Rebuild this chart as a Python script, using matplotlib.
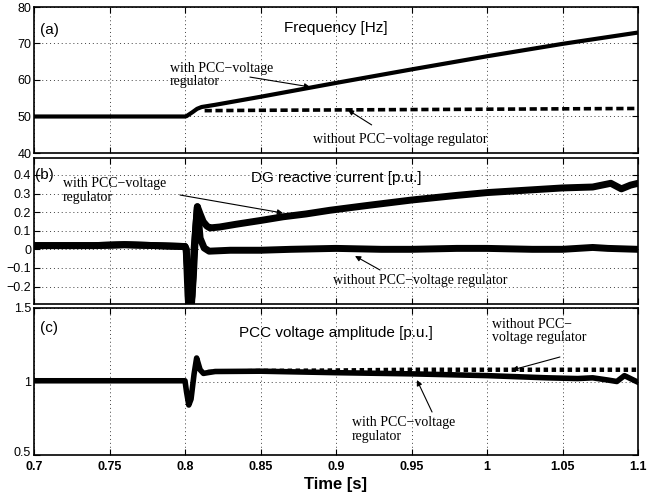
import matplotlib
matplotlib.use("Agg")
import matplotlib.pyplot as plt
import matplotlib.transforms as mtransforms

# ---------------- data ----------------
# (a) Frequency [Hz]
t_f_with = [0.700, 0.800, 0.801, 0.805, 0.808, 0.811, 0.820, 0.850, 0.900, 0.950, 1.000, 1.050, 1.100]
f_with = [50.0, 50.0, 50.1, 51.2, 52.1, 52.6, 53.2, 55.4, 59.2, 62.9, 66.5, 69.9, 73.0]
t_f_without = [0.813, 0.850, 0.900, 0.950, 1.000, 1.050, 1.100]
f_without = [51.6, 51.7, 51.8, 51.9, 52.0, 52.1, 52.2]

# (b) DG reactive current [p.u.]
t_b_with = [0.700, 0.720, 0.740, 0.760, 0.780, 0.800, 0.8008, 0.802, 0.803, 0.8046, 0.806,
            0.8082, 0.810, 0.8121, 0.8145, 0.8165, 0.823, 0.834, 0.850, 0.865, 0.880, 0.896,
            0.920, 0.950, 0.980, 1.000, 1.020, 1.050, 1.070, 1.082, 1.089, 1.095, 1.100]
iq_with = [0.02, 0.02, 0.02, 0.025, 0.02, 0.015, 0.0, -0.25, -0.35, -0.25, 0.0,
           0.229, 0.19, 0.148, 0.125, 0.115, 0.12, 0.135, 0.155, 0.175, 0.19, 0.21,
           0.235, 0.265, 0.29, 0.305, 0.315, 0.33, 0.335, 0.355, 0.325, 0.345, 0.355]
t_b_without = [0.700, 0.720, 0.740, 0.760, 0.780, 0.800, 0.8008, 0.8025, 0.804, 0.8055, 0.807,
               0.8082, 0.810, 0.8127, 0.816, 0.830, 0.850, 0.870, 0.900, 0.930, 0.950, 0.980,
               1.000, 1.030, 1.050, 1.070, 1.080, 1.100]
iq_without = [0.02, 0.02, 0.02, 0.025, 0.02, 0.015, 0.0, -0.2, -0.33, -0.15, 0.1,
              0.229, 0.06, 0.007, -0.01, -0.005, -0.005, 0.0, 0.005, 0.0, 0.0, 0.005,
              0.005, 0.0, 0.0, 0.01, 0.005, 0.0]

# (c) PCC voltage amplitude [p.u.]
t_c_with = [0.700, 0.750, 0.800, 0.801, 0.8025, 0.804, 0.806, 0.8077, 0.810, 0.8122, 0.815,
            0.820, 0.850, 0.900, 0.950, 1.000, 1.040, 1.060, 1.070, 1.080, 1.086, 1.091, 1.100]
v_with = [1.005, 1.005, 1.005, 0.93, 0.84, 0.88, 1.05, 1.16, 1.08, 1.055, 1.06,
          1.068, 1.07, 1.06, 1.052, 1.04, 1.025, 1.02, 1.025, 1.01, 1.00, 1.04, 0.995]
t_c_without = [0.815, 0.850, 0.900, 0.950, 1.000, 1.050, 1.100]
v_without = [1.065, 1.072, 1.075, 1.08, 1.08, 1.08, 1.08]

x_ticks = [0.7, 0.75, 0.8, 0.85, 0.9, 0.95, 1.0, 1.05, 1.1]
x_tick_labels = ["0.7", "0.75", "0.8", "0.85", "0.9", "0.95", "1", "1.05", "1.1"]
a_ticks = [40, 50, 60, 70, 80]
b_ticks = [-0.2, -0.1, 0, 0.1, 0.2, 0.3, 0.4]
b_tick_labels = ["\u22120.2", "\u22120.1", "0", "0.1", "0.2", "0.3", "0.4"]
c_ticks = [0.5, 1.0, 1.5]
c_tick_labels = ["0.5", "1", "1.5"]

titles = ["Frequency [Hz]", "DG reactive current [p.u.]", "PCC voltage amplitude [p.u.]"]
panel_labels = ["(a)", "(b)", "(c)"]
lbl_with = "with PCC\u2212voltage\nregulator"
lbl_without_line = "without PCC\u2212voltage regulator"
lbl_without_2 = "without PCC\u2212\nvoltage regulator"

# ---------------- figure ----------------
SANS = "Liberation Sans"
SERIF = "Liberation Serif"
plt.rcParams["font.family"] = SANS

W, H = 663, 495
fig = plt.figure(figsize=(W / 100, H / 100), dpi=100)

def frac_rect(top_px, bottom_px, left_px=34, right_px=638):
    return [left_px / W, 1 - bottom_px / H, (right_px - left_px) / W, (bottom_px - top_px) / H]

ax_a = fig.add_axes(frac_rect(7, 153))
ax_b = fig.add_axes(frac_rect(158, 304))
ax_c = fig.add_axes(frac_rect(308, 455))

for ax in (ax_a, ax_b, ax_c):
    ax.set_xlim(0.7, 1.1)
    ax.set_xticks(x_ticks)
    ax.grid(True, linestyle=(0, (1, 3)), color="0.25", linewidth=0.7)
    ax.tick_params(direction="in", top=True, right=True, length=4, width=0.8,
                   labelsize=9, pad=2)
    for s in ax.spines.values():
        s.set_linewidth(1.2)
    ax.set_axisbelow(True)

ax_a.set_xticklabels([])
ax_b.set_xticklabels([])
ax_c.set_xticklabels(x_tick_labels, fontweight="bold")
ax_c.tick_params(axis="x", pad=4)

# (a)
ax_a.plot(t_f_with, f_with, color="k", lw=3.0, solid_capstyle="butt")
ax_a.plot(t_f_without, f_without, color="k", lw=2.6, linestyle=(0, (2.0, 1.0)))
ax_a.set_ylim(40, 80)
ax_a.set_yticks(a_ticks)

# (b)
ax_b.plot(t_b_without, iq_without, color="k", lw=5.0)
ax_b.plot(t_b_with, iq_with, color="k", lw=5.0)
ax_b.set_ylim(-0.294, 0.491)
ax_b.set_yticks(b_ticks)
ax_b.set_yticklabels(b_tick_labels)

# (c)
ax_c.plot(t_c_with, v_with, color="k", lw=4.0)
ax_c.plot(t_c_without, v_without, color="k", lw=3.2, linestyle=(0, (1, 0.8)))
ax_c.set_ylim(0.5, 1.5)
ax_c.set_yticks(c_ticks)
ax_c.set_yticklabels(c_tick_labels)
# lift the bottom "0.5" label a few pixels so it only touches "0.7"
lab05 = ax_c.get_yticklabels()[0]
lab05.set_transform(lab05.get_transform() +
                    mtransforms.ScaledTranslation(0, 3.5 / 100, fig.dpi_scale_trans))

# titles & panel labels
title_y = [0.856, 0.863, 0.83]
label_pos = [(0.010, 0.842), (0.002, 0.884), (0.010, 0.864)]
for ax, ttl, ty, pl, (lx, ly) in zip((ax_a, ax_b, ax_c), titles, title_y, panel_labels, label_pos):
    ax.text(0.5, ty, ttl, transform=ax.transAxes, ha="center", va="center", fontsize=11)
    ax.text(lx, ly, pl, transform=ax.transAxes, ha="left", va="center", fontsize=11)

ax_c.set_xlabel("Time [s]", fontsize=12, fontweight="bold", labelpad=3)

arrow = dict(arrowstyle="-|>", color="k", lw=0.8, mutation_scale=8, shrinkA=0, shrinkB=0)
tkw = dict(fontsize=10, family=SERIF, ha="left", va="center", linespacing=1.05)

# annotations (a)
ax_a.text(0.790, 61.4, lbl_with, **tkw)
ax_a.annotate("", xy=(0.8828, 58.1), xytext=(0.843, 60.8), arrowprops=arrow)
ax_a.text(0.8848, 43.6, lbl_without_line, **tkw)
ax_a.annotate("", xy=(0.9079, 51.8), xytext=(0.9236, 47.7), arrowprops=arrow)

# annotations (b)
ax_b.text(0.7192, 0.316, lbl_with, **tkw)
ax_b.annotate("", xy=(0.8649, 0.195), xytext=(0.7967, 0.292), arrowprops=arrow)
ax_b.text(0.898, -0.165, lbl_without_line, **tkw)
ax_b.annotate("", xy=(0.9126, -0.036), xytext=(0.9291, -0.111), arrowprops=arrow)

# annotations (c)
ax_c.text(1.0033, 1.3435, lbl_without_2, **tkw)
ax_c.annotate("", xy=(1.0166, 1.078), xytext=(1.0483, 1.1667), arrowprops=arrow)
ax_c.text(0.9106, 0.673, lbl_with, **tkw)
ax_c.annotate("", xy=(0.9536, 1.01), xytext=(0.9636, 0.7925), arrowprops=arrow)

fig.savefig("out.png", dpi=100)
